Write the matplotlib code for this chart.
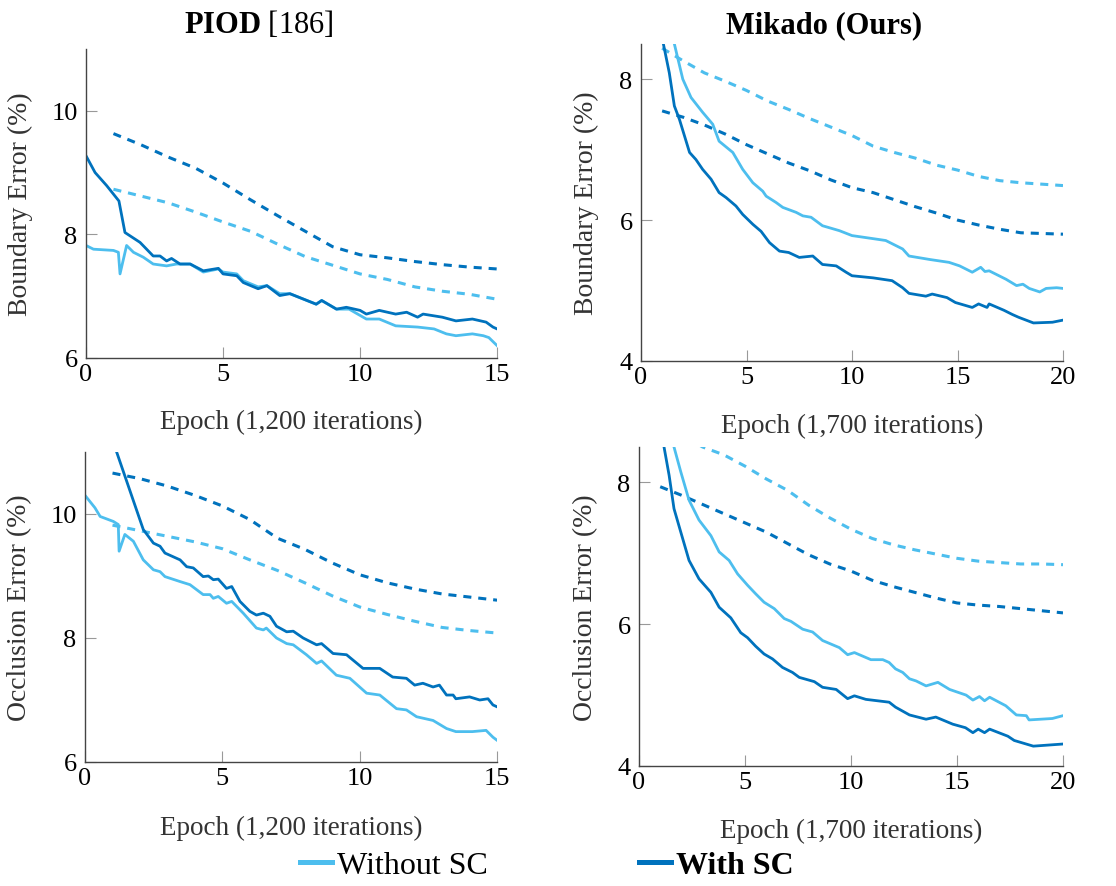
import numpy as np
from matplotlib import pyplot as plt
from matplotlib.lines import Line2D

plt.rcParams['font.family'] = ['Liberation Serif', 'DejaVu Serif']
plt.rcParams['mathtext.fontset'] = 'custom'
plt.rcParams['mathtext.rm'] = 'Liberation Serif'
plt.rcParams['mathtext.bf'] = 'Liberation Serif:bold'
plt.rcParams['lines.scale_dashes'] = False

LIGHT = '#4DBEEE'
DARK = '#0072BD'

# ---- PIOD, boundary error ----
tl_val_wo = [8.73, 8.62, 8.51, 8.36, 8.20, 8.05, 7.84, 7.64, 7.50, 7.36, 7.27, 7.15, 7.08, 7.03, 6.95]
tl_val_w = [9.63, 9.45, 9.25, 9.07, 8.83, 8.56, 8.30, 8.05, 7.80, 7.67, 7.62, 7.56, 7.51, 7.47, 7.44]
tl_x_w = [0, 0.33, 0.75, 1.2, 1.42, 1.97, 2.45, 2.7, 2.94, 3.12, 3.43, 3.8, 4.28, 4.83, 5.0, 5.5, 5.74,
          6.28, 6.6, 7.07, 7.44, 8.4, 8.6, 9.14, 9.5, 10.0, 10.23, 10.7, 11.3, 11.7, 12.1, 12.3, 13.0,
          13.5, 14.1, 14.6, 14.85, 15]
tl_y_w = [9.27, 9.0, 8.79, 8.54, 8.03, 7.87, 7.65, 7.65, 7.57, 7.61, 7.52, 7.52, 7.41, 7.45, 7.36, 7.33,
          7.22, 7.12, 7.17, 7.01, 7.04, 6.87, 6.93, 6.79, 6.82, 6.77, 6.71, 6.77, 6.71, 6.74, 6.66, 6.71,
          6.66, 6.60, 6.63, 6.58, 6.50, 6.47]
tl_x_wo = [0, 0.27, 1.0, 1.18, 1.24, 1.48, 1.73, 2.09, 2.45, 2.94, 3.3, 3.8, 4.28, 4.83, 5.0, 5.5, 5.74,
           6.28, 6.6, 7.07, 7.44, 8.4, 8.6, 9.14, 9.6, 10.23, 10.7, 11.3, 12.1, 12.7, 13.15, 13.5, 14.1,
           14.5, 14.7, 15]
tl_y_wo = [7.82, 7.76, 7.74, 7.71, 7.36, 7.82, 7.71, 7.63, 7.52, 7.49, 7.52, 7.52, 7.39, 7.44, 7.39, 7.36,
           7.25, 7.15, 7.17, 7.04, 7.04, 6.87, 6.93, 6.79, 6.79, 6.63, 6.63, 6.52, 6.50, 6.47, 6.39, 6.36,
           6.39, 6.36, 6.33, 6.20]

# ---- Mikado, boundary error ----
tr_val_wo = [8.44, 8.26, 8.09, 7.97, 7.84, 7.69, 7.57, 7.44, 7.32, 7.20, 7.05, 6.96, 6.88, 6.78, 6.71,
             6.62, 6.56, 6.53, 6.51, 6.49]
tr_val_w = [7.55, 7.46, 7.35, 7.22, 7.07, 6.94, 6.81, 6.70, 6.57, 6.46, 6.39, 6.29, 6.19, 6.10, 6.00,
            5.93, 5.87, 5.82, 5.81, 5.80]
tr_x_w = [1.06, 1.34, 1.58, 1.82, 2.3, 2.6, 2.92, 3.32, 3.7, 4.03, 4.5, 4.82, 5.3, 5.69, 6.09, 6.56, 7.0,
          7.5, 8.14, 8.6, 9.25, 9.72, 10.0, 11.0, 11.9, 12.4, 12.7, 13.5, 13.8, 14.5, 14.9, 15.7, 16.0,
          16.4, 16.5, 17.2, 17.6, 17.9, 18.6, 19.5, 20]
tr_y_w = [8.5, 8.09, 7.62, 7.43, 6.96, 6.86, 6.72, 6.58, 6.39, 6.32, 6.20, 6.08, 5.94, 5.84, 5.68, 5.56,
          5.54, 5.47, 5.49, 5.37, 5.35, 5.26, 5.21, 5.18, 5.14, 5.04, 4.96, 4.92, 4.95, 4.90, 4.83, 4.76,
          4.81, 4.76, 4.81, 4.72, 4.66, 4.62, 4.54, 4.55, 4.58]
tr_x_wo = [1.58, 1.98, 2.37, 2.92, 3.4, 3.7, 4.35, 4.82, 5.3, 5.77, 5.93, 6.4, 6.72, 7.35, 7.67, 8.06,
           8.6, 9.4, 10.0, 11.15, 11.6, 12.4, 12.7, 13.7, 14.6, 15.1, 15.7, 16.1, 16.3, 16.5, 17.3, 17.8,
           18.1, 18.4, 18.9, 19.2, 19.7, 20]
tr_y_wo = [8.5, 8.0, 7.74, 7.53, 7.36, 7.12, 6.96, 6.72, 6.53, 6.41, 6.34, 6.25, 6.18, 6.11, 6.06, 6.04,
           5.92, 5.85, 5.78, 5.73, 5.71, 5.59, 5.49, 5.44, 5.40, 5.35, 5.26, 5.33, 5.27, 5.28, 5.16, 5.07,
           5.09, 5.03, 4.98, 5.03, 5.04, 5.03]

# ---- PIOD, occlusion error ----
bl_val_wo = [9.82, 9.73, 9.64, 9.55, 9.44, 9.26, 9.09, 8.89, 8.68, 8.50, 8.38, 8.27, 8.17, 8.12, 8.08]
bl_val_w = [10.66, 10.57, 10.45, 10.30, 10.13, 9.91, 9.61, 9.43, 9.21, 9.02, 8.89, 8.79, 8.71, 8.66, 8.61]
bl_x_w = [1.15, 2.12, 2.49, 2.73, 2.91, 3.46, 3.7, 3.94, 4.3, 4.49, 4.67, 4.85, 5.15, 5.34, 5.64, 6.0,
          6.24, 6.49, 6.73, 6.97, 7.34, 7.58, 7.94, 8.43, 8.61, 9.03, 9.52, 10.12, 10.37, 10.73, 11.2,
          11.7, 12.0, 12.3, 12.67, 12.9, 13.16, 13.4, 13.5, 14.0, 14.37, 14.67, 14.85, 15]
bl_y_w = [11.0, 9.75, 9.53, 9.48, 9.37, 9.26, 9.15, 9.13, 8.99, 9.0, 8.94, 8.95, 8.80, 8.83, 8.59, 8.43,
          8.37, 8.40, 8.35, 8.19, 8.10, 8.11, 8.0, 7.89, 7.91, 7.75, 7.73, 7.51, 7.51, 7.51, 7.37, 7.35,
          7.24, 7.27, 7.21, 7.24, 7.08, 7.08, 7.02, 7.05, 7.0, 7.02, 6.92, 6.89]
bl_x_wo = [0, 0.36, 0.55, 1.03, 1.21, 1.24, 1.45, 1.76, 2.12, 2.49, 2.73, 2.91, 3.46, 3.82, 4.3, 4.55,
           4.67, 4.85, 5.15, 5.34, 5.76, 6.24, 6.49, 6.6, 6.97, 7.34, 7.58, 8.06, 8.43, 8.61, 9.15, 9.64,
           10.25, 10.73, 11.34, 11.7, 12.07, 12.67, 13.16, 13.5, 14.1, 14.6, 14.85, 15]
bl_y_wo = [10.30, 10.10, 9.96, 9.88, 9.83, 9.40, 9.67, 9.56, 9.26, 9.10, 9.07, 8.99, 8.91, 8.86, 8.70,
           8.70, 8.64, 8.67, 8.56, 8.59, 8.40, 8.16, 8.13, 8.16, 8.0, 7.91, 7.89, 7.73, 7.59, 7.63, 7.40,
           7.35, 7.11, 7.08, 6.86, 6.84, 6.73, 6.67, 6.54, 6.49, 6.49, 6.51, 6.40, 6.35]

# ---- Mikado, occlusion error ----
br_val_wo = [8.88, 8.68, 8.50, 8.39, 8.23, 8.05, 7.89, 7.68, 7.50, 7.34, 7.21, 7.12, 7.05, 6.99, 6.93,
             6.89, 6.87, 6.85, 6.85, 6.84]
br_val_w = [7.94, 7.82, 7.69, 7.56, 7.43, 7.30, 7.14, 6.98, 6.85, 6.75, 6.62, 6.53, 6.45, 6.37, 6.30,
            6.27, 6.25, 6.22, 6.19, 6.16]
br_x_w = [1.18, 1.42, 1.65, 1.97, 2.36, 2.83, 3.39, 3.78, 4.33, 4.8, 5.12, 5.5, 5.9, 6.3, 6.77, 7.24,
          7.56, 8.27, 8.66, 9.3, 9.84, 10.16, 10.7, 11.8, 12.1, 12.76, 13.54, 14.0, 14.8, 15.4, 15.75,
          16.0, 16.3, 16.54, 17.4, 17.7, 18.6, 20]
br_y_w = [8.5, 8.10, 7.63, 7.30, 6.90, 6.64, 6.45, 6.24, 6.09, 5.88, 5.81, 5.69, 5.58, 5.51, 5.39, 5.32,
          5.25, 5.19, 5.11, 5.08, 4.95, 4.99, 4.94, 4.90, 4.83, 4.72, 4.66, 4.69, 4.59, 4.54, 4.47, 4.52,
          4.47, 4.52, 4.42, 4.36, 4.28, 4.31]
br_x_wo = [1.65, 1.97, 2.36, 2.83, 3.39, 3.78, 4.25, 4.65, 5.12, 5.5, 5.9, 6.38, 6.85, 7.17, 7.72, 8.19,
           8.66, 9.45, 9.84, 10.16, 10.94, 11.5, 11.8, 12.1, 12.44, 12.76, 13.07, 13.54, 14.1, 14.65,
           15.43, 15.75, 16.06, 16.3, 16.54, 17.3, 17.8, 18.27, 18.4, 19.5, 20]
br_y_wo = [8.5, 8.15, 7.75, 7.47, 7.25, 7.02, 6.90, 6.71, 6.55, 6.43, 6.31, 6.22, 6.08, 6.04, 5.93, 5.89,
           5.77, 5.67, 5.57, 5.60, 5.50, 5.50, 5.46, 5.37, 5.32, 5.23, 5.20, 5.13, 5.18, 5.08, 5.0, 4.93,
           4.98, 4.92, 4.97, 4.85, 4.72, 4.71, 4.65, 4.67, 4.71]


def panel(rect, xw, yw, xwo, ywo, val_w, val_wo, xmax, ylim, yticks, ylabel, xlabel, lab_x, lab_y):
    ax = fig.add_axes(rect)
    ep = np.arange(1, len(val_w) + 1)
    dash = (0, (5.8, 5.0))
    ax.plot(ep, val_wo, color=LIGHT, lw=2.2, linestyle=dash)
    ax.plot(ep, val_w, color=DARK, lw=2.2, linestyle=dash)
    ax.plot(xwo, ywo, color=LIGHT, lw=2.0)
    ax.plot(xw, yw, color=DARK, lw=2.0)
    ax.set_xlim(0, xmax)
    ax.set_ylim(*ylim)
    ax.set_xticks(np.arange(0, xmax + 1, 5))
    ax.set_yticks(yticks)
    for s in ['top', 'right']:
        ax.spines[s].set_visible(False)
    for s in ['left', 'bottom']:
        ax.spines[s].set_color('#444444')
        ax.spines[s].set_linewidth(1.0)
    ax.tick_params(direction='in', length=8, width=0.8, color='#999999', labelsize=19)
    ax.tick_params(axis='x', pad=3.5)
    ax.tick_params(axis='y', pad=6)
    ax.set_ylabel(ylabel, fontsize=20, color='#333333')
    ax.set_xlabel(xlabel, fontsize=19.5, color='#333333')
    ax.yaxis.set_label_coords(lab_x, 0.5)
    ax.xaxis.set_label_coords(0.5, lab_y)
    return ax


fig = plt.figure(figsize=(11.16, 8.87), dpi=100)

panel([0.0771, 0.5953, 0.3683, 0.3484], tl_x_w, tl_y_w, tl_x_wo, tl_y_wo, tl_val_w, tl_val_wo,
      15, (6, 11), [6, 8, 10], 'Boundary Error (%)', 'Epoch (1,200 iterations)', -0.129, -0.165)
panel([0.5744, 0.5919, 0.3781, 0.3574], tr_x_w, tr_y_w, tr_x_wo, tr_y_wo, tr_val_w, tr_val_wo,
      20, (4, 8.5), [4, 6, 8], 'Boundary Error (%)', 'Epoch (1,700 iterations)', -0.0995, -0.164)
panel([0.0762, 0.1398, 0.3692, 0.3495], bl_x_w, bl_y_w, bl_x_wo, bl_y_wo, bl_val_w, bl_val_wo,
      15, (6, 11), [6, 8, 10], 'Occlusion Error (%)', 'Epoch (1,200 iterations)', -0.129, -0.171)
panel([0.5726, 0.1353, 0.3799, 0.3596], br_x_w, br_y_w, br_x_wo, br_y_wo, br_val_w, br_val_wo,
      20, (4, 8.5), [4, 6, 8], 'Occlusion Error (%)', 'Epoch (1,700 iterations)', -0.097, -0.164)

fig.text(259 / 1116, 1 - 33 / 887, r'$\mathbf{PIOD}$ [186]', fontsize=22, ha='center', va='baseline')
fig.text(824 / 1116, 1 - 33 / 887, 'Mikado (Ours)', fontsize=22, fontweight='bold',
         ha='center', va='baseline')

handles = [Line2D([], [], color=LIGHT, lw=3.6), Line2D([], [], color=DARK, lw=3.6)]
leg = fig.legend(handles, ['Without SC', 'With SC'], loc='center', ncol=2,
                 bbox_to_anchor=(547 / 1116, 1 - 866 / 887), frameon=False, fontsize=23,
                 handlelength=1.0, handletextpad=0.15, columnspacing=4.75, borderpad=0)
leg.get_texts()[1].set_fontweight('bold')

plt.savefig('out.png', dpi=100)
